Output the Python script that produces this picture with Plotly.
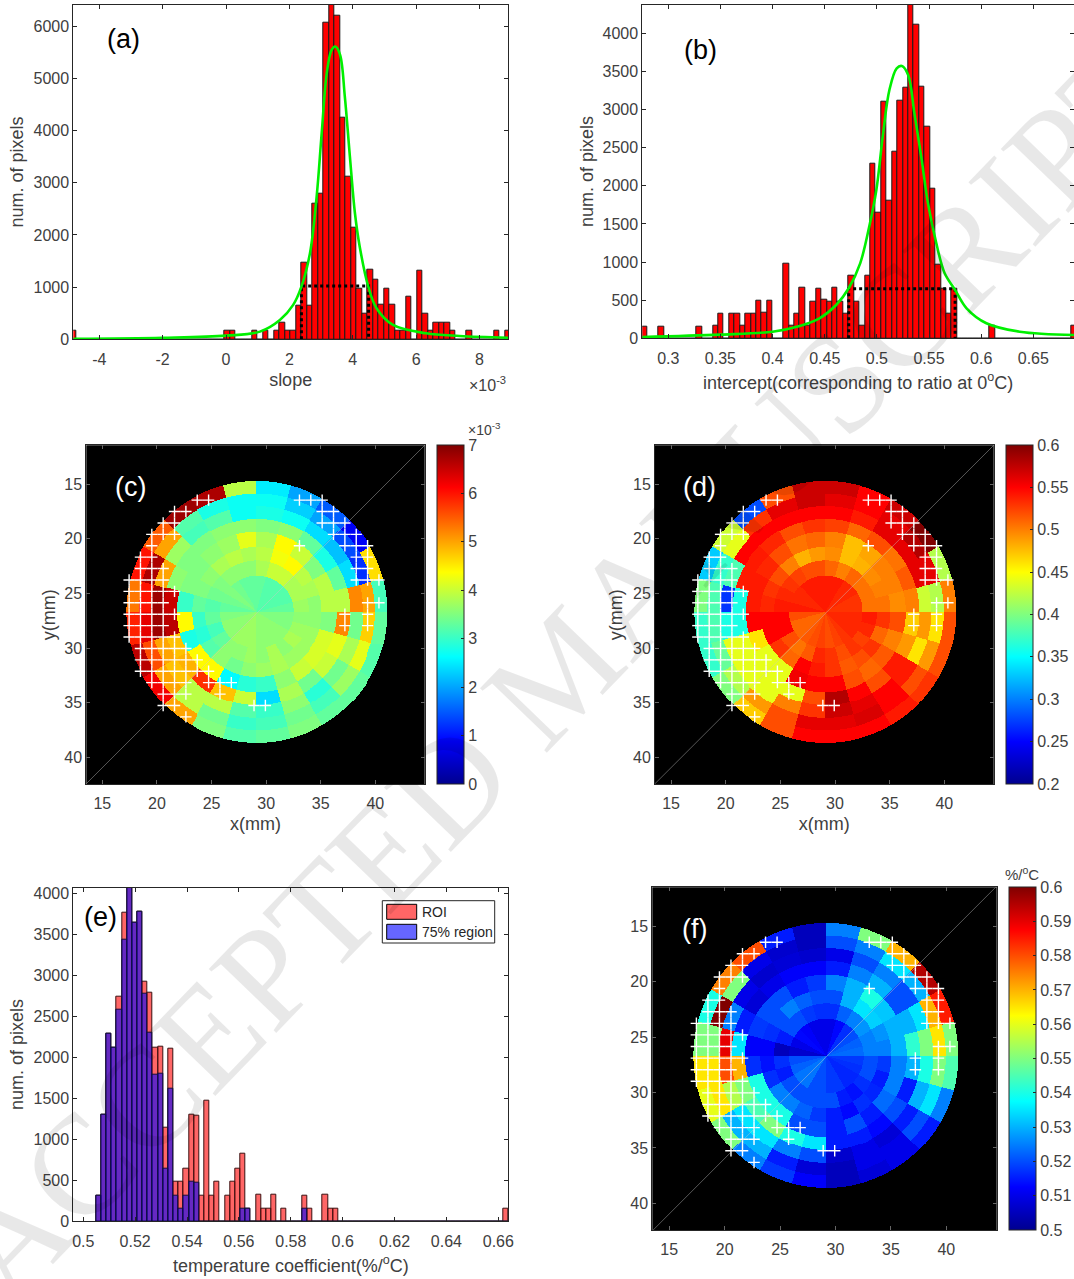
import numpy as np
import plotly.graph_objects as go

W, H = 1074, 1279
FONT = "Liberation Sans"
INK = "#404040"
AXC = "#262626"

# ---------- (a) slope histogram (x in units of 1e-3) ----------
A_FIRST, A_STEP = -4.82, 0.17367
A_COUNTS = [160,0,0,0,0,0,0,0,0,0,0,0,0,0,0,0,0,0,0,0,0,0,0,0,0,0,0,0,160,160,
            0,0,0,160,0,160,0,160,325,160,160,645,1475,645,2600,2790,6070,6450,6200,4250,
            3115,2130,975,500,1330,1150,655,960,655,160,160,815,0,1310,500,160,325,325,325,160,
            0,0,160,0,0,0,0,160,0,160]
A_FIT_X = [-4.82,-2,0,1.07,1.7,2.12,2.38,2.65,2.86,3.02,3.18,3.33,3.45,3.6,3.75,3.91,4.07,4.22,4.49,4.75,5.27,6.32,7.37,8.9]
A_FIT_Y = [10,30,70,147,370,660,1010,1650,2730,3950,5100,5540,5610,5450,4650,3500,2410,1775,1010,595,275,115,64,30]
A_DOT_X = [2.38,2.38,4.5,4.5]
A_DOT_Y = [0,1020,1020,0]

# ---------- (b) intercept histogram ----------
B_FIRST, B_STEP = 0.2777, 0.005204
B_COUNTS = [153,0,0,153,0,0,0,0,0,0,153,0,0,170,328,0,319,328,162,328,
            328,494,337,494,0,0,975,162,328,660,162,485,650,500,485,670,485,328,817,485,
            162,817,2290,1648,3107,1800,2452,3120,3291,4400,4117,3304,2780,1962,970,650,328,650,0,0,
            0,0,0,0,170,0,0,0,0,0,0,0,0,0,0,0,0,0,0,162]
B_FIT_X = [0.275,0.3495,0.400,0.426,0.445,0.461,0.473,0.484,0.493,0.4995,0.506,0.512,0.519,0.524,0.530,0.536,0.543,0.549,0.557,0.565,0.575,0.586,0.605,0.637,0.689]
B_FIT_Y = [17,48,87,162,262,437,656,983,1486,1945,2688,3256,3540,3571,3453,2950,2338,1770,1246,852,634,393,197,87,44]
B_DOT_X = [0.473,0.473,0.575,0.575]
B_DOT_Y = [0,650,650,0]

# ---------- (e) temperature coefficient histogram ----------
E_FIRST, E_STEP = 0.5059, 0.001987
E_ROI = [317,1305,2293,2122,2744,3768,4090,3646,3780,2927,2793,2122,2134,1146,2110,488,488,646,1305,1293,
         317,1476,317,488,0,317,488,646,829,158,0,329,158,158,329,0,158,0,0,0,
         317,158,0,0,329,158,158,0,0,0,0,0,0,0,0,0,0,0,0,0,
         0,0,0,0,0,0,0,0,0,0,0,0,0,0,0,0,0,0,0,158]
E_75 = [317,1305,2293,2122,2585,3439,4090,3646,3780,2772,2305,1793,1805,646,1622,317,158,317,488,476,
        0,0,0,0,0,0,0,0,158,158,0,0,0,0,0,0,0,0,0,0,
        158,0,0,0,0,0,0,0,0,0,0,0,0,0,0,0,0,0,0,0,
        0,0,0,0,0,0,0,0,0,0,0,0,0,0,0,0,0,0,0,0]

# ---------- maps: rows = rings (centre outwards), columns = 15-degree sectors, ccw from +x ----------
MAP_CENTRE = (29.15, 26.7)
RING_EDGES_MM = [3.36, 4.73, 5.95, 7.33, 8.55, 9.71, 10.84, 11.97]
C_SLOPE = [
 [3.3,3.2,3.2,3.2,3.2,3.3,3.3,3.3,3.4,3.5,3.4,3.3,3.5,3.6,3.6,3.7,3.7,3.7,3.6,3.6,3.6,3.6,3.5,3.5],
 [3.7,3.8,3.8,4.0,4.0,3.8,3.6,3.6,3.6,3.5,3.4,3.2,3.3,3.1,3.3,3.6,3.6,3.7,3.6,3.8,3.6,3.8,3.7,3.6],
 [3.6,3.8,3.9,4.4,4.3,3.9,3.8,3.9,3.8,3.6,3.5,3.3,3.0,2.9,3.2,3.6,3.4,3.6,3.7,3.8,3.7,3.7,3.7,3.6],
 [3.9,3.9,3.5,4.0,4.4,3.8,4.2,3.7,3.6,3.5,3.5,3.0,4.4,2.8,4.4,4.4,2.6,2.9,3.0,3.6,4.0,4.1,4.1,3.5],
 [3.9,3.3,2.8,3.3,3.6,3.5,3.6,3.6,3.5,3.5,3.6,6.5,6.6,4.8,4.9,5.8,4.8,4.0,2.4,3.8,3.4,4.0,4.2,5.2],
 [5.2,2.4,2.2,2.4,2.7,2.8,2.7,3.2,3.1,3.7,5.0,6.8,6.8,5.0,4.8,3.9,3.9,3.2,3.0,3.6,2.9,3.4,3.8,3.4],
 [5.0,1.2,1.4,2.0,2.3,2.7,2.7,2.8,3.2,5.0,6.7,6.0,6.3,5.6,5.0,3.9,3.4,3.0,3.1,3.4,3.1,3.7,4.2,4.7],
 [3.1,4.6,0.8,1.5,2.0,2.5,3.9,6.7,6.8,5.5,6.0,5.3,5.9,6.6,6.2,5.0,3.5,3.2,3.3,3.5,3.3,3.3,3.2,3.3],
]
D_INTERCEPT = [
 [.53,.53,.535,.535,.54,.54,.54,.54,.54,.535,.535,.54,.52,.51,.51,.515,.52,.525,.52,.525,.53,.535,.535,.535],
 [.505,.505,.505,.51,.5,.51,.52,.52,.525,.53,.535,.54,.55,.55,.52,.505,.515,.535,.53,.52,.53,.525,.535,.54],
 [.505,.5,.495,.48,.475,.495,.49,.48,.5,.52,.53,.535,.55,.55,.53,.51,.55,.54,.53,.515,.52,.53,.51,.53],
 [.495,.5,.5,.485,.475,.5,.51,.505,.52,.535,.54,.54,.55,.46,.44,.44,.555,.55,.55,.52,.51,.515,.5,.52],
 [.5,.515,.505,.52,.51,.525,.53,.52,.535,.54,.54,.36,.36,.44,.44,.44,.44,.52,.58,.55,.52,.54,.49,.47],
 [.43,.56,.56,.56,.54,.55,.55,.55,.55,.55,.38,.27,.36,.44,.44,.44,.5,.53,.57,.56,.55,.54,.46,.49],
 [.42,.56,.58,.56,.55,.56,.57,.56,.53,.44,.37,.38,.38,.39,.42,.49,.52,.56,.56,.565,.55,.52,.49,.46],
 [.5,.42,.6,.57,.55,.57,.57,.52,.28,.43,.33,.4,.37,.37,.4,.47,.52,.55,.55,.55,.54,.53,.52,.52],
]
F_TEMPCO = [
 [.523,.522,.52,.517,.513,.51,.51,.51,.512,.513,.51,.507,.52,.522,.524,.524,.52,.52,.518,.518,.516,.516,.517,.518],
 [.525,.525,.527,.525,.522,.517,.517,.518,.52,.52,.515,.505,.517,.515,.52,.52,.52,.52,.52,.515,.514,.517,.52,.52],
 [.525,.527,.533,.535,.53,.52,.52,.522,.525,.52,.517,.512,.514,.517,.525,.525,.522,.518,.515,.513,.517,.516,.515,.518],
 [.53,.53,.532,.54,.53,.525,.518,.515,.52,.52,.518,.512,.517,.54,.54,.54,.52,.52,.515,.52,.515,.523,.525,.525],
 [.542,.53,.52,.53,.525,.515,.512,.512,.51,.508,.515,.535,.57,.55,.545,.55,.54,.535,.515,.515,.513,.52,.515,.53],
 [.55,.535,.52,.525,.52,.51,.507,.508,.507,.51,.525,.59,.58,.555,.535,.535,.525,.52,.507,.51,.508,.515,.53,.54],
 [.565,.57,.53,.535,.525,.52,.505,.507,.51,.55,.6,.55,.565,.565,.53,.53,.515,.508,.505,.51,.51,.52,.535,.55],
 [.55,.585,.595,.57,.55,.525,.505,.515,.58,.575,.54,.55,.565,.56,.55,.525,.518,.512,.505,.508,.51,.515,.525,.545],
]
# Rows of white crosses on the measurement mesh: row index -> column indices
MESH_X0, MESH_DX, MESH_Y0, MESH_DY = 17.45, 1.04, 16.45, 1.045
MESH_ROWS = {
 0:[6,7,15,16,17], 1:[4,5,17,18], 2:[3,4,17,18,19], 3:[2,3,4,18,19,20], 4:[2,15,19,20,21],
 5:[1,2,20,21], 6:[1,2,3,20,21], 7:[0,1,2,3,20,21,22], 8:[0,1,2,3,4], 9:[0,1,2,3,21,22],
 10:[0,1,2,3,4,19,21], 11:[0,1,2,3,19,21], 12:[0,1,2,3,4], 13:[1,2,3,4,5], 14:[1,2,3,4,5,6],
 15:[1,2,3,4,5,6,7], 16:[2,3,4,5,7,8,9], 17:[3,4,5,8], 18:[3,4,11,12], 19:[5],
}
JET = [[0,"rgb(0,0,143)"],[0.125,"rgb(0,0,255)"],[0.375,"rgb(0,255,255)"],
       [0.625,"rgb(255,255,0)"],[0.875,"rgb(255,0,0)"],[1,"rgb(128,0,0)"]]

GX = np.arange(13.5, 44.55, 0.09)
GY = np.arange(11.45, 42.5, 0.09)

def raster(table):
    xx, yy = np.meshgrid(GX, GY)
    dx, dy = xx - MAP_CENTRE[0], yy - MAP_CENTRE[1]
    r = np.hypot(dx, dy)
    ang = np.degrees(np.arctan2(-dy, dx)) % 360
    ring = np.searchsorted(RING_EDGES_MM, r)
    sect = (ang // 15).astype(int) % 24
    t = np.array(table, float)
    z = np.full(r.shape, np.nan)
    ok = ring < len(RING_EDGES_MM)
    z[ok] = t[ring[ok], sect[ok]]
    return z

def mesh_xy():
    xs, ys = [], []
    arm = 0.52
    for j, cols in MESH_ROWS.items():
        y = MESH_Y0 + MESH_DY * j
        for c in cols:
            x = MESH_X0 + MESH_DX * c
            xs += [x - arm, x + arm, None, x, x, None]
            ys += [y, y, None, y - arm, y + arm, None]
    return xs, ys

px = lambda v: v / W
py = lambda v: 1 - v / H

fig = go.Figure()

def set_axes(n, box, xr, yr, xt, xl, yt, yl, xtitle=None, ytitle=None, xstand=6, ystand=6, dark=False):
    l, r, t, b = box
    s = "" if n == 1 else str(n)
    tick = dict(size=16, family=FONT, color=INK)
    tfont = dict(size=18, family=FONT, color=INK)
    common = dict(showgrid=False, zeroline=False, showline=True, linecolor=AXC, linewidth=1,
                  ticks="inside", ticklen=4, tickwidth=1, tickcolor=AXC if not dark else "#666666",
                  mirror="ticks", tickfont=tick, layer="above traces")
    fig.layout["xaxis"+s] = dict(common, domain=[px(l), px(r)], range=xr, tickvals=xt, ticktext=xl, ticklabelstandoff=5,
                                 anchor="y"+s, title=dict(text=xtitle, font=tfont, standoff=xstand) if xtitle else None)
    fig.layout["yaxis"+s] = dict(common, domain=[py(b), py(t)], range=yr, tickvals=yt, ticktext=yl,
                                 anchor="x"+s, title=dict(text=ytitle, font=tfont, standoff=ystand) if ytitle else None)

def hist_panel(n, first, step, counts, fit_x, fit_y, dot_x, dot_y):
    s = "" if n == 1 else str(n)
    xs = [first + step * i for i in range(len(counts))]
    fig.add_bar(x=xs, y=counts, width=step, marker=dict(color="rgb(255,0,0)", line=dict(color="#1a1a1a", width=1)),
                xaxis="x"+s, yaxis="y"+s, showlegend=False)
    fig.add_scatter(x=dot_x, y=dot_y, mode="lines", line=dict(color="black", width=3, dash="dot"),
                    xaxis="x"+s, yaxis="y"+s, showlegend=False)
    fig.add_scatter(x=fit_x, y=fit_y, mode="lines", line=dict(color="rgb(0,240,0)", width=2.6, shape="spline"),
                    xaxis="x"+s, yaxis="y"+s, showlegend=False)

def map_panel(n, table, zmin, zmax, cb_left, top, bottom, tickvals, ticktext):
    s = "" if n == 1 else str(n)
    fig.add_heatmap(x=GX, y=GY, z=raster(table), zmin=zmin, zmax=zmax, colorscale=JET, hoverongaps=False,
                    xaxis="x"+s, yaxis="y"+s,
                    colorbar=dict(x=px(cb_left), xanchor="left", xpad=0, ypad=0, thickness=27, thicknessmode="pixels",
                                  y=py(bottom), yanchor="bottom", len=(bottom-top)/H, lenmode="fraction",
                                  tickvals=tickvals, ticktext=ticktext, ticks="inside", ticklen=3, tickcolor=AXC,
                                  outlinecolor=AXC, outlinewidth=1,
                                  tickfont=dict(size=16, family=FONT, color=INK)))
    mx, my = mesh_xy()
    fig.add_scatter(x=mx, y=my, mode="lines", line=dict(color="white", width=1.4), xaxis="x"+s, yaxis="y"+s,
                    showlegend=False, hoverinfo="skip")
    fig.add_scatter(x=[13.5, 44.5], y=[42.45, 11.45], mode="lines", line=dict(color="rgba(200,200,200,0.55)", width=0.8),
                    xaxis="x"+s, yaxis="y"+s, showlegend=False, hoverinfo="skip")

# (a)
hist_panel(1, A_FIRST, A_STEP, A_COUNTS, A_FIT_X, A_FIT_Y, A_DOT_X, A_DOT_Y)
set_axes(1, (73.3, 508, 4.7, 339.3), [-4.82, 8.9], [0, 6410],
         [-4,-2,0,2,4,6,8], ["-4","-2","0","2","4","6","8"],
         [0,1000,2000,3000,4000,5000,6000], ["0","1000","2000","3000","4000","5000","6000"],
         xtitle="slope", ytitle="num. of pixels", ystand=5)
# (b)
hist_panel(2, B_FIRST, B_STEP, B_COUNTS, B_FIT_X, B_FIT_Y, B_DOT_X, B_DOT_Y)
set_axes(2, (642.3, 1074, 4.7, 338.3), [0.2751, 0.689], [0, 4375],
         [0.3,0.35,0.4,0.45,0.5,0.55,0.6,0.65], ["0.3","0.35","0.4","0.45","0.5","0.55","0.6","0.65"],
         list(range(0,4001,500)), [str(v) for v in range(0,4001,500)],
         xtitle="intercept(corresponding to ratio at 0<sup>o</sup>C)", ytitle="num. of pixels", xstand=10, ystand=4)
# (c), (d), (f)
MM_T = [15,20,25,30,35,40]
MM_L = [str(v) for v in MM_T]
map_panel(3, C_SLOPE, 0, 7, 437.3, 445.3, 784, list(range(8)), [str(v) for v in range(8)])
set_axes(3, (86.3, 424.7, 445.3, 784), [13.53, 44.52], [42.45, 11.43], MM_T, MM_L, MM_T, MM_L,
         xtitle="x(mm)", ytitle="y(mm)", ystand=3, dark=True)
D_T = [0.2,0.25,0.3,0.35,0.4,0.45,0.5,0.55,0.6]
map_panel(4, D_INTERCEPT, 0.2, 0.6, 1006.3, 445.3, 784, D_T, ["0.2","0.25","0.3","0.35","0.4","0.45","0.5","0.55","0.6"])
set_axes(4, (655, 993.7, 445.3, 784), [13.53, 44.52], [42.45, 11.43], MM_T, MM_L, MM_T, MM_L,
         xtitle="x(mm)", ytitle="y(mm)", ystand=5, dark=True)
F_T = [0.5,0.51,0.52,0.53,0.54,0.55,0.56,0.57,0.58,0.59,0.6]
map_panel(6, F_TEMPCO, 0.5, 0.6, 1009.3, 887.3, 1230, F_T, ["0.5","0.51","0.52","0.53","0.54","0.55","0.56","0.57","0.58","0.59","0.6"])
set_axes(6, (652.3, 996.7, 887.3, 1230), [13.47, 44.55], [42.4, 11.5], MM_T, MM_L, MM_T, MM_L, dark=True)
# (e)
E_XS = [E_FIRST + E_STEP * i for i in range(len(E_ROI))]
fig.add_bar(x=E_XS, y=E_ROI, width=E_STEP, marker=dict(color="rgba(255,0,0,0.6)", line=dict(color="#3a1010", width=1)),
            xaxis="x5", yaxis="y5", name="ROI", showlegend=False)
fig.add_bar(x=E_XS, y=E_75, width=E_STEP, marker=dict(color="rgba(0,0,255,0.6)", line=dict(color="#10103a", width=1)),
            xaxis="x5", yaxis="y5", name="75% region", showlegend=False)
set_axes(5, (73.3, 508.3, 887.7, 1221.3), [0.49614, 0.66386], [0, 4069],
         [0.5,0.52,0.54,0.56,0.58,0.6,0.62,0.64,0.66], ["0.5","0.52","0.54","0.56","0.58","0.6","0.62","0.64","0.66"],
         list(range(0,4001,500)), [str(v) for v in range(0,4001,500)],
         xtitle="temperature coefficient(%/<sup>o</sup>C)", ytitle="num. of pixels", xstand=10, ystand=5)

def note(text, x, y, size=15, color=INK, xanchor="center"):
    return dict(text=text, xref="paper", yref="paper", x=px(x), y=py(y), showarrow=False,
                xanchor=xanchor, yanchor="middle",
                font=dict(size=size, family=FONT, color=color))

notes = [
    note("(a)", 123, 39, 27, "black"), note("(b)", 700, 50, 27, "black"),
    note("(c)", 130, 487, 27, "white"), note("(d)", 699, 487, 27, "white"),
    note("(e)", 100, 917, 27, "black"), note("(f)", 694, 929, 27, "white"),
    note("×10<sup>-3</sup>", 487, 384, 16), note("×10<sup>-3</sup>", 484, 429, 14),
    note("%/<sup>o</sup>C", 1022, 873, 15),
    note("ROI", 420, 912, 14, "#262626", "left"),
    note("75% region", 420, 932, 14, "#262626", "left"),
    dict(text="ACCEPTED MANUSCRIPT", xref="paper", yref="paper", x=px(560), y=py(670), showarrow=False,
         xanchor="center", yanchor="middle",
         textangle=-46, font=dict(size=142, family="Liberation Serif", color="rgba(0,0,0,0.09)")),
]
shapes = [
    dict(type="rect", xref="paper", yref="paper", x0=px(382.3), x1=px(494.7), y0=py(943), y1=py(900.7),
         fillcolor="white", line=dict(color=AXC, width=1)),
    dict(type="rect", xref="paper", yref="paper", x0=px(386.7), x1=px(416.7), y0=py(919.3), y1=py(904.3),
         fillcolor="rgba(255,0,0,0.6)", line=dict(color="black", width=1)),
    dict(type="rect", xref="paper", yref="paper", x0=px(386.7), x1=px(416.7), y0=py(939.3), y1=py(924.3),
         fillcolor="rgba(0,0,255,0.6)", line=dict(color="black", width=1)),
]
fig.update_layout(width=W, height=H, margin=dict(l=0, r=0, t=0, b=0, autoexpand=False), paper_bgcolor="white", plot_bgcolor="white",
                  barmode="overlay", bargap=0, annotations=notes, shapes=shapes, showlegend=False)
# black backdrop behind the maps
for n, box in ((3, (86.3, 424.7, 445.3, 784)), (4, (655, 993.7, 445.3, 784)), (6, (652.3, 996.7, 887.3, 1230))):
    fig.add_shape(type="rect", xref="paper", yref="paper", x0=px(box[0]), x1=px(box[1]), y0=py(box[3]), y1=py(box[2]),
                  fillcolor="black", line=dict(width=0), layer="below")

fig.write_html("out.html", config=dict(displayModeBar=False), post_script="document.body.style.margin='0';")
